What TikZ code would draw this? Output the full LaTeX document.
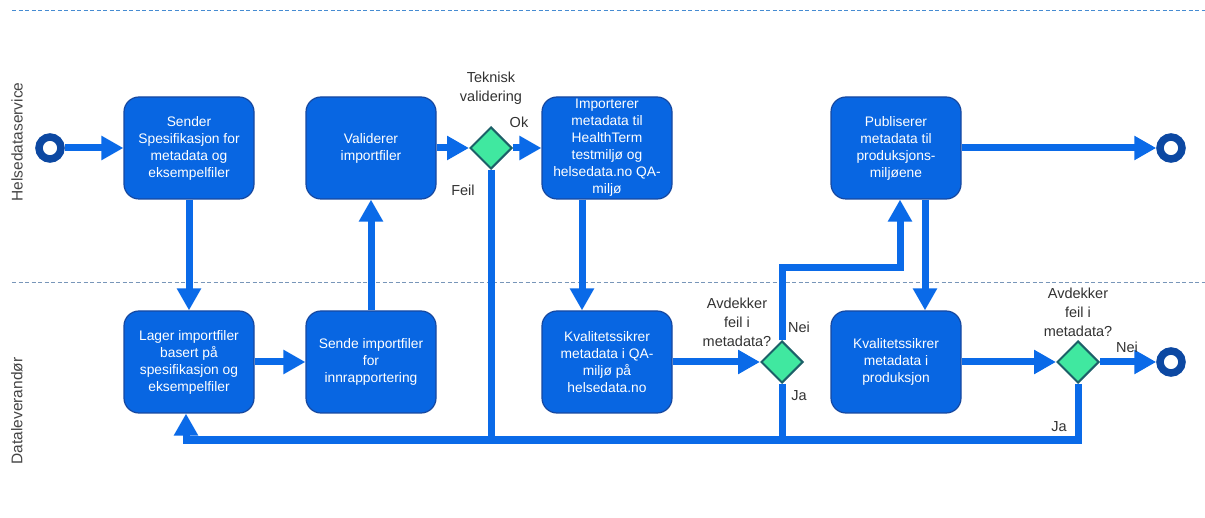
\documentclass[tikz,border=0pt]{standalone}
\usepackage{fontspec}
\setmainfont{Liberation Sans}
\usetikzlibrary{arrows.meta,shapes.geometric}

\definecolor{taskblue}{RGB}{8,102,226}
\definecolor{taskedge}{RGB}{22,72,160}
\definecolor{flowblue}{RGB}{10,106,232}
\definecolor{eventblue}{RGB}{12,72,162}
\definecolor{gatefill}{RGB}{64,232,160}
\definecolor{gateedge}{RGB}{28,96,104}
\definecolor{lanetext}{RGB}{68,68,68}
\definecolor{labeltext}{RGB}{50,50,50}
\definecolor{toplane}{RGB}{70,140,210}
\definecolor{midlane}{RGB}{120,150,185}

\begin{document}
\begin{tikzpicture}[x=1pt,y=-1pt,
  task/.style={rectangle, rounded corners=15pt, draw=taskedge, line width=1.2pt,
    fill=taskblue, minimum width=130pt, minimum height=102pt, text=white,
    align=center, font=\fontsize{13.8}{17}\selectfont, inner sep=2pt},
  gate/.style={diamond, aspect=1, draw=gateedge, line width=2pt, fill=gatefill,
    minimum width=42pt, minimum height=42pt, inner sep=0pt},
  event/.style={circle, draw=eventblue, line width=7.5pt, fill=white,
    minimum size=22pt, inner sep=0pt},
  flow/.style={draw=flowblue, line width=7pt, -{Triangle[length=22pt,width=23pt]}},
  plainflow/.style={draw=flowblue, line width=7pt},
  lbl/.style={text=labeltext, font=\fontsize{14.5}{19}\selectfont, align=center, inner sep=0pt},
  lane/.style={text=lanetext, font=\fontsize{15.5}{18}\selectfont, rotate=90, inner sep=0pt},
  lanesep/.style={line width=1pt, dash pattern=on 4pt off 2.5pt},
]
\useasboundingbox (0,0) rectangle (1205,518);

% lane separators
\draw[lanesep, draw=toplane] (12,11) -- (1205,11);
\draw[lanesep, draw=midlane] (12,283) -- (1205,283);

% lane titles
\node[lane] (laneA) at (17,142) {Helsedataservice};
\node[lane] (laneB) at (17,411) {Dataleverandør};

% events
\node[event] (start) at (50,148) {};
\node[event] (end1) at (1171,148) {};
\node[event] (end2) at (1171,362) {};

% tasks, upper lane
\node[task] (b1) at (189,148) {Sender\\Spesifikasjon for\\metadata og\\eksempelfiler};
\node[task] (b2) at (371,148) {Validerer\\importfiler};
\node[task] (b3) at (607,148) {Importerer\\metadata til\\HealthTerm\\testmiljø og\\helsedata.no QA-\\miljø};
\node[task] (b4) at (896,148) {Publiserer\\metadata til\\produksjons-\\miljøene};

% tasks, lower lane
\node[task] (b5) at (189,362) {Lager importfiler\\basert på\\spesifikasjon og\\eksempelfiler};
\node[task] (b6) at (371,362) {Sende importfiler\\for\\innrapportering};
\node[task] (b7) at (607,362) {Kvalitetssikrer\\metadata i QA-\\miljø på\\helsedata.no};
\node[task] (b8) at (896,362) {Kvalitetssikrer\\metadata i\\produksjon};

% gateways
\node[gate] (g1) at (491,148) {};
\node[gate] (g2) at (782,362) {};
\node[gate] (g3) at (1078,362) {};

\coordinate (bot) at (0,440);

% sequence flows
\draw[flow] (start) -- (b1);
\draw[flow] (b1) -- (b5);
\draw[flow] (b5) -- (b6);
\draw[flow] (b6) -- (b2);
\draw[flow] (b2) -- (g1);
\draw[flow] (g1) -- (b3);
\draw[plainflow] (g2.south) |- (g1.south |- bot);
\draw[plainflow] (g3.south) |- (g2.south |- bot);
\draw[flow] (g1.south) -- (g1.south |- bot) -| ([xshift=-3pt]b5.south);
\draw[flow] ([xshift=-25pt]b3.south) -- ([xshift=-25pt]b7.north);
\draw[flow] (b7) -- (g2);
\draw[flow] (g2.north) -- ++(0,-72) -| ([xshift=4pt]b4.south);
\draw[flow] ([xshift=29pt]b4.south) -- ([xshift=29pt]b8.north);
\draw[flow] (b4) -- (end1);
\draw[flow] (b8) -- (g3);
\draw[flow] (g3) -- (end2);

% gateway and flow labels
\node[lbl] (tv) at (491,88) {Teknisk\\validering};
\node[lbl] (ok) at (519,122) {Ok};
\node[lbl] (feil) at (463,190) {Feil};
\node[lbl] (q2) at (737,322) {Avdekker\\feil i\\metadata?};
\node[lbl] (nei2) at (799,327) {Nei};
\node[lbl] (ja2) at (799,396) {Ja};
\node[lbl] (q3) at (1078,312) {Avdekker\\feil i\\metadata?};
\node[lbl] (nei3) at (1127,347) {Nei};
\node[lbl] (ja3) at (1059,427) {Ja};
\end{tikzpicture}
\end{document}
